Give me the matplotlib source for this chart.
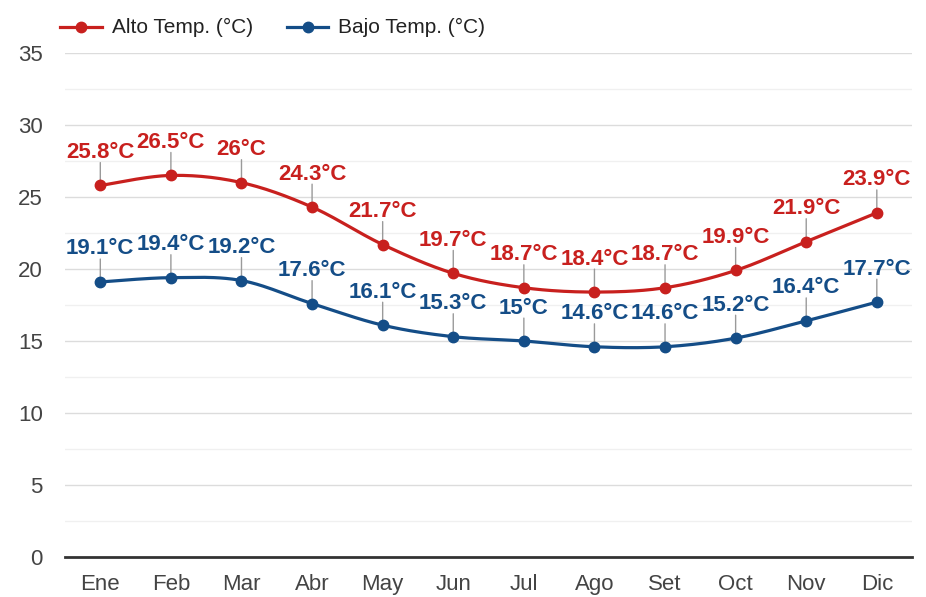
import numpy as np
import matplotlib
matplotlib.use('Agg')
import matplotlib.pyplot as plt
from matplotlib.lines import Line2D

plt.rcParams['font.family'] = ['Liberation Sans', 'DejaVu Sans']

# Monthly temperatures
months = ['Ene', 'Feb', 'Mar', 'Abr', 'May', 'Jun', 'Jul', 'Ago', 'Set', 'Oct', 'Nov', 'Dic']
alto = [25.8, 26.5, 26, 24.3, 21.7, 19.7, 18.7, 18.4, 18.7, 19.9, 21.9, 23.9]
bajo = [19.1, 19.4, 19.2, 17.6, 16.1, 15.3, 15, 14.6, 14.6, 15.2, 16.4, 17.7]
yticks = [0, 5, 10, 15, 20, 25, 30, 35]

RED = '#c8201e'
BLUE = '#144d87'


def smooth(xs, ys, n=24):
    # Catmull-Rom style cubic bezier through every point
    xs = np.asarray(xs, float)
    ys = np.asarray(ys, float)
    px = np.concatenate([[xs[0]], xs, [xs[-1]]])
    py = np.concatenate([[ys[0]], ys, [ys[-1]]])
    outx, outy = [], []
    t = np.linspace(0, 1, n)
    for i in range(1, len(px) - 2):
        p0 = np.array([px[i], py[i]])
        p3 = np.array([px[i + 1], py[i + 1]])
        c1 = p0 + (np.array([px[i + 1], py[i + 1]]) - np.array([px[i - 1], py[i - 1]])) / 6
        c2 = p3 - (np.array([px[i + 2], py[i + 2]]) - np.array([px[i], py[i]])) / 6
        b = ((1 - t) ** 3)[:, None] * p0 + (3 * (1 - t) ** 2 * t)[:, None] * c1 \
            + (3 * (1 - t) * t ** 2)[:, None] * c2 + (t ** 3)[:, None] * p3
        outx.extend(b[:, 0])
        outy.extend(b[:, 1])
    return outx, outy


fig = plt.figure(figsize=(9.26, 5.97), dpi=100)
ax = fig.add_axes([0.0702, 0.067, 0.9148, 0.8442])

x = np.arange(len(months))

# grid: major every 5, light lines in between
for v in np.arange(2.5, 35, 5):
    ax.axhline(v, color='#f0f0f0', lw=1, zorder=0)
for v in yticks[1:]:
    ax.axhline(v, color='#dcdcdc', lw=1, zorder=0)

for vals, col in [(alto, RED), (bajo, BLUE)]:
    sx, sy = smooth(x, vals)
    ax.plot(sx, sy, color=col, lw=2.3, zorder=3, solid_capstyle='round')
    ax.plot(x, vals, 'o', color=col, ms=7.5, zorder=4)
    for i, v in enumerate(vals):
        ax.annotate('', xy=(i, v), xytext=(0, 16.5), textcoords='offset points',
                    arrowprops=dict(arrowstyle='-', color='#9a9a9a', lw=1,
                                    shrinkA=0, shrinkB=0), zorder=2)
        ax.annotate(f'{v:g}°C', xy=(i, v), xytext=(0, 19.8), textcoords='offset points',
                    ha='center', va='baseline', fontsize=16, fontweight='bold',
                    color=col, zorder=5)

ax.set_xlim(-0.5, 11.5)
ax.set_ylim(0, 35)
ax.set_xticks(x)
ax.set_xticklabels(months)
ax.set_yticks(yticks)
ax.tick_params(length=0, labelsize=16, colors='#444444')
ax.tick_params(axis='x', pad=12)
ax.tick_params(axis='y', pad=16)
for s in ['top', 'right', 'left']:
    ax.spines[s].set_visible(False)
ax.spines['bottom'].set_color('#333333')
ax.spines['bottom'].set_linewidth(2)
ax.spines['bottom'].set_zorder(6)

# legend along the top
ly = 1 - 27 / 597
for x0, x1, col, label in [(60, 102, RED, 'Alto Temp. (°C)'), (287, 328, BLUE, 'Bajo Temp. (°C)')]:
    fig.add_artist(Line2D([x0 / 926, x1 / 926], [ly, ly], color=col, lw=2.3,
                          transform=fig.transFigure))
    fig.add_artist(Line2D([(x0 + x1) / 2 / 926], [ly], marker='o', ms=7.5, color=col,
                          transform=fig.transFigure))
    fig.text((x1 + 10) / 926, ly, label, fontsize=15, color='#222222', va='center', ha='left')

fig.savefig('out.png', dpi=100)
